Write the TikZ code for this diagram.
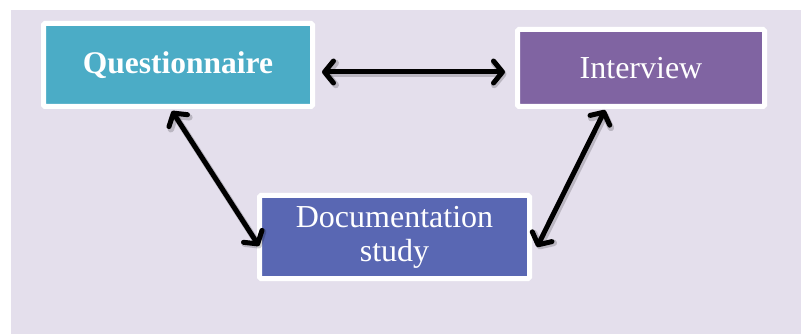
\documentclass[tikz,border=0pt]{standalone}
\usepackage{fontspec}
\setmainfont{Liberation Serif}
\usetikzlibrary{arrows.meta}
\definecolor{bgLav}{HTML}{E4DFEC}
\definecolor{qTeal}{HTML}{4BACC6}
\definecolor{iPurple}{HTML}{8064A2}
\definecolor{dBlue}{HTML}{5967B3}
\tikzset{
  methodbox/.style={draw=white, line width=5pt, rounded corners=1.5pt, inner sep=0pt,
    text=white, align=center, font=\fontsize{32}{33}\selectfont},
  linkarrow/.style={line width=5pt, line cap=round, line join=round,
    {Straight Barb[length=9pt,width=22pt,line cap=round,line join=round]}-{Straight Barb[length=9pt,width=22pt,line cap=round,line join=round]}},
  linkshadow/.style={linkarrow, draw=black, opacity=0.18, line width=6.5pt, transform canvas={shift={(1.5pt,-2pt)}}}
}
\begin{document}
\begin{tikzpicture}[x=1pt,y=-1pt]
  \useasboundingbox (0,0) rectangle (801,334);
  \fill[white] (0,0) rectangle (801,334);
  \fill[bgLav] (11,10) rectangle (801,334);

  \node[methodbox, fill=qTeal, minimum width=269pt, minimum height=83pt, font=\fontsize{31.5}{33}\selectfont\bfseries]
    (q) at (178,65) {Questionnaire};
  \node[methodbox, fill=iPurple, minimum width=247pt, minimum height=77pt]
    (i) at (641,68) {Interview};
  \node[methodbox, fill=dBlue, minimum width=270pt, minimum height=83pt, font=\fontsize{32}{34}\selectfont]
    (d) at (394.5,237) {Documentation\\study};

  % soft shadows under the links
  \draw[linkshadow] ([shift={(7pt,-7pt)}]q.east) -- ([shift={(-10pt,-4pt)}]i.west);
  \draw[linkshadow] ([shift={(-6pt,-2pt)}]q.south) -- ([shift={(2pt,-9pt)}]d.west);
  \draw[linkshadow] ([shift={(-36pt,-1pt)}]i.south) -- ([shift={(5pt,-10pt)}]d.east);

  % two-way links between the methods
  \draw[linkarrow] ([shift={(7pt,-7pt)}]q.east) -- ([shift={(-10pt,-4pt)}]i.west);
  \draw[linkarrow] ([shift={(-6pt,-2pt)}]q.south) -- ([shift={(2pt,-9pt)}]d.west);
  \draw[linkarrow] ([shift={(-36pt,-1pt)}]i.south) -- ([shift={(5pt,-10pt)}]d.east);
\end{tikzpicture}
\end{document}
